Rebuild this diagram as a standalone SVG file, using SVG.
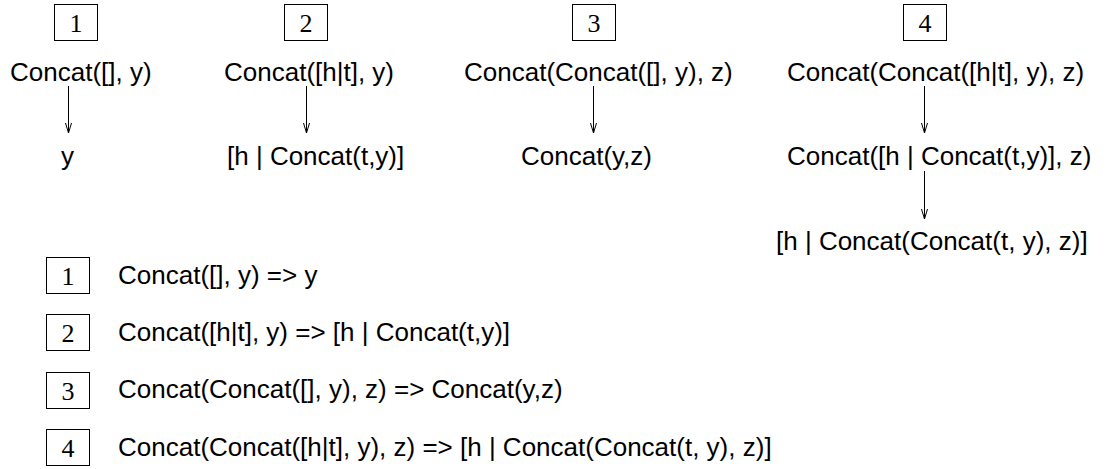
<svg xmlns="http://www.w3.org/2000/svg" width="1110" height="469" viewBox="0 0 1110 469">
<style>
.t{font-family:"Liberation Sans",Arial,sans-serif;font-size:26px;fill:#000}
.n{font-family:"Liberation Serif","Times New Roman",serif;font-size:26px;fill:#000;text-anchor:middle}
.b{fill:#fff;stroke:#000;stroke-width:1}
.c{stroke:#000;stroke-width:1;fill:none;marker-end:url(#ah)}
</style>
<defs>
<marker id="ah" markerUnits="userSpaceOnUse" markerWidth="14" markerHeight="12" refX="12" refY="6" orient="auto" viewBox="0 0 14 12">
<path d="M2,3 L12,6 L2,9" fill="none" stroke="#000" stroke-width="1"/>
</marker>
</defs>
<rect width="1110" height="469" fill="#fff"/>
<g id="connectors">
<line class="c" x1="68.5" y1="86" x2="68.5" y2="133"/>
<line class="c" x1="306.5" y1="86" x2="306.5" y2="133"/>
<line class="c" x1="593.5" y1="86" x2="593.5" y2="133"/>
<line class="c" x1="924.5" y1="86" x2="924.5" y2="133"/>
<line class="c" x1="924.5" y1="171" x2="924.5" y2="219"/>
</g>
<g id="case1">
<rect class="b" x="54.5" y="4.5" width="43" height="36"/>
<text class="n" x="76" y="32">1</text>
<text class="t" x="10" y="81">Concat([], y)</text>
<text class="t" x="61" y="165">y</text>
</g>
<g id="case2">
<rect class="b" x="284.5" y="4.5" width="43" height="36"/>
<text class="n" x="306" y="32">2</text>
<text class="t" x="224" y="81">Concat([h|t], y)</text>
<text class="t" x="227" y="165">[h | Concat(t,y)]</text>
</g>
<g id="case3">
<rect class="b" x="572.5" y="4.5" width="43" height="36"/>
<text class="n" x="594" y="32">3</text>
<text class="t" x="464" y="81">Concat(Concat([], y), z)</text>
<text class="t" x="521" y="165">Concat(y,z)</text>
</g>
<g id="case4">
<rect class="b" x="903.5" y="4.5" width="43" height="36"/>
<text class="n" x="925" y="32">4</text>
<text class="t" x="787" y="81">Concat(Concat([h|t], y), z)</text>
<text class="t" x="787" y="165">Concat([h | Concat(t,y)], z)</text>
<text class="t" x="776" y="250">[h | Concat(Concat(t, y), z)]</text>
</g>
<g id="rule1">
<rect class="b" x="46.5" y="257.5" width="43" height="36"/>
<text class="n" x="68" y="285">1</text>
<text class="t" x="118" y="284">Concat([], y) =&gt; y</text>
</g>
<g id="rule2">
<rect class="b" x="46.5" y="314.5" width="43" height="36"/>
<text class="n" x="68" y="342">2</text>
<text class="t" x="118" y="341">Concat([h|t], y) =&gt; [h | Concat(t,y)]</text>
</g>
<g id="rule3">
<rect class="b" x="46.5" y="372.5" width="43" height="36"/>
<text class="n" x="68" y="400">3</text>
<text class="t" x="118" y="398">Concat(Concat([], y), z) =&gt; Concat(y,z)</text>
</g>
<g id="rule4">
<rect class="b" x="46.5" y="429.5" width="43" height="36"/>
<text class="n" x="68" y="457">4</text>
<text class="t" x="118" y="456">Concat(Concat([h|t], y), z) =&gt; [h | Concat(Concat(t, y), z)]</text>
</g>
</svg>
